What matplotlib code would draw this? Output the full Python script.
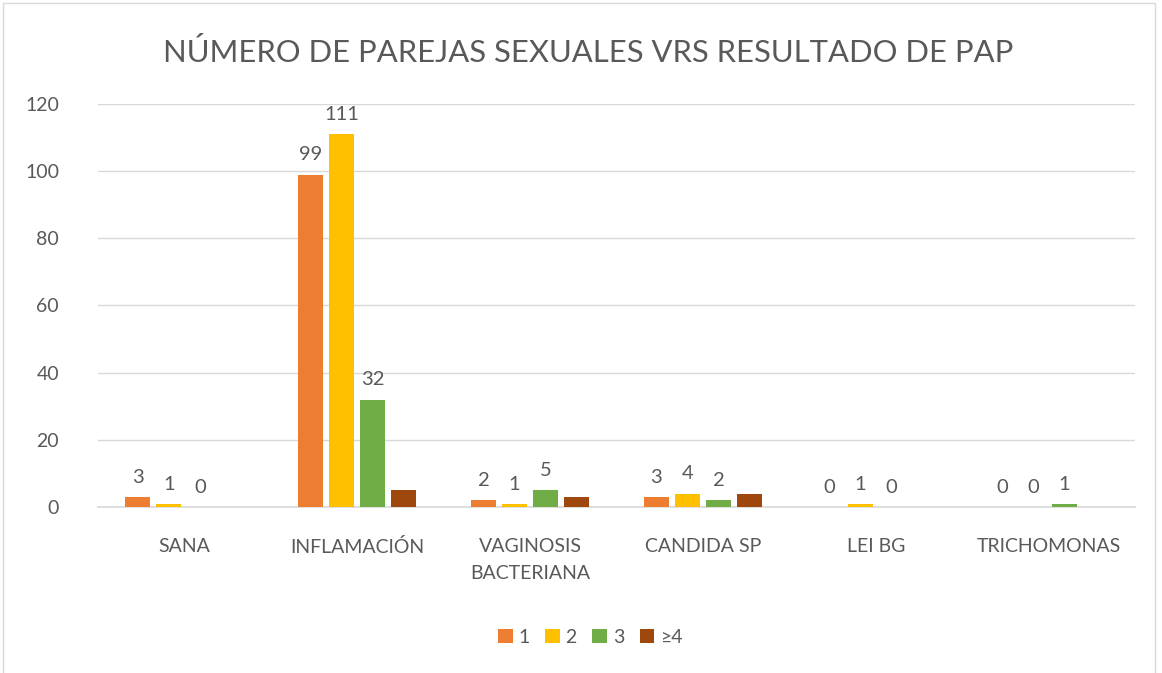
import matplotlib.pyplot as plt
import matplotlib.patches as mpatches
import numpy as np

categories = ["SANA", "INFLAMACIÓN", "VAGINOSIS\nBACTERIANA", "CANDIDA SP", "LEI BG", "TRICHOMONAS"]
series_names = ["1", "2", "3", "≥4"]
s1 = [3, 99, 2, 3, 0, 0]
s2 = [1, 111, 1, 4, 1, 0]
s3 = [0, 32, 5, 2, 0, 1]
s4 = [0, 5, 3, 4, 0, 0]
colors = ["#ED7D31", "#FFC000", "#70AD47", "#9E480E"]
labelled = [True, True, True, False]

plt.rcParams["font.family"] = ["Lato", "DejaVu Sans"]
text_color = "#595959"

fig = plt.figure(figsize=(11.62, 6.73), dpi=100)
ax = fig.add_axes([0.0843, 0.2467, 0.8927, 0.5988])

x = np.arange(len(categories))
width = 0.145
step = 0.18
for i, (vals, name, col) in enumerate(zip([s1, s2, s3, s4], series_names, colors)):
    pos = x + (i - 1.5) * step
    bars = ax.bar(pos, vals, width, color=col, label=name, zorder=3)
    if labelled[i]:
        for b, v in zip(bars, vals):
            ax.annotate(str(v), (b.get_x() + b.get_width() / 2, v),
                        xytext=(0, 8), textcoords="offset points",
                        ha="center", va="bottom", fontsize=14.5, color=text_color)

ax.set_xlim(-0.5, len(categories) - 0.5)
ax.set_ylim(0, 120)
ax.set_yticks(range(0, 121, 20))
ax.yaxis.grid(True, color="#D9D9D9", linewidth=1, zorder=0)
ax.set_xticks(x)
ax.set_xticklabels(categories, fontsize=14, color=text_color, linespacing=1.75)
ax.tick_params(axis="y", length=0, pad=28, labelsize=14, labelcolor=text_color)
ax.tick_params(axis="x", length=0, pad=22)
for side in ["top", "right", "left"]:
    ax.spines[side].set_visible(False)
ax.spines["bottom"].set_color("#D9D9D9")
ax.spines["bottom"].set_linewidth(1.2)

fig.text(0.506, 0.922, "NÚMERO DE PAREJAS SEXUALES VRS RESULTADO DE PAP",
         ha="center", va="center", fontsize=22.3, color=text_color)

fig.legend(loc="center", bbox_to_anchor=(0.508, 0.053), ncol=4, frameon=False,
           fontsize=14, labelcolor=text_color, handlelength=0.75, handleheight=0.75,
           handletextpad=0.3, columnspacing=0.8)

frame = mpatches.Rectangle((0.003, -0.1), 0.991, 1.095, transform=fig.transFigure,
                           fill=False, edgecolor="#D9D9D9", linewidth=1)
fig.patches.append(frame)

fig.savefig("out.png", dpi=100)
